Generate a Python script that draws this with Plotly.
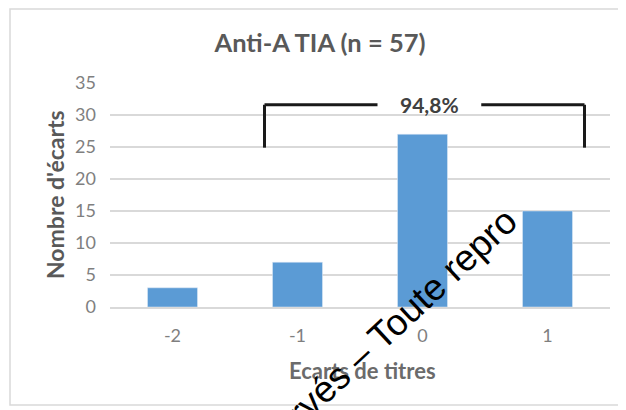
import plotly.graph_objects as go

categories = [-2, -1, 0, 1]
counts = [3, 7, 27, 15]
y_ticks = [0, 5, 10, 15, 20, 25, 30, 35]
title_text = "Anti-A TIA (n = 57)"
x_title = "Ecarts de titres"
y_title = "Nombre d'écarts"
bracket_label = "94,8%"
bracket_x = [-1.264, 1.296]
bracket_y = [24.9, 31.6]
gap_x = [-0.36, 0.47]
watermark = "rvés – Toute repro"

# page has an 8px body margin: figure px = page px - 8
OFF = 8
W, H = 618, 402
L, R, T, B = 110 - OFF, 16, 83 - OFF, 103
PW, PH = W - L - R, H - T - B


def px(xp):  # page x -> paper x
    return (xp - OFF - L) / PW


def py(yp):  # page y -> paper y
    return 1 - (yp - OFF - T) / PH


fig = go.Figure(go.Bar(x=categories, y=counts, marker_color="#5B9BD5",
                       width=0.4, hoverinfo="skip"))

shape_line = dict(color="#1a1a1a", width=3)
fig.add_shape(type="line", xref="x", yref="y", x0=bracket_x[0], x1=bracket_x[0],
              y0=bracket_y[0], y1=bracket_y[1], line=shape_line)
fig.add_shape(type="line", xref="x", yref="y", x0=bracket_x[1], x1=bracket_x[1],
              y0=bracket_y[0], y1=bracket_y[1], line=shape_line)
fig.add_shape(type="line", xref="x", yref="y", x0=bracket_x[0], x1=gap_x[0],
              y0=bracket_y[1], y1=bracket_y[1], line=shape_line)
fig.add_shape(type="line", xref="x", yref="y", x0=gap_x[1], x1=bracket_x[1],
              y0=bracket_y[1], y1=bracket_y[1], line=shape_line)
fig.add_annotation(x=(gap_x[0] + gap_x[1]) / 2, y=bracket_y[1], xref="x", yref="y",
                   text="<b>" + bracket_label + "</b>",
                   showarrow=False, font=dict(size=21, color="#404040", family="Lato"),
                   xanchor="center", yanchor="middle")

# chart border
fig.add_shape(type="rect", xref="paper", yref="paper",
              x0=px(10), x1=px(660), y0=py(405), y1=py(9),
              line=dict(color="#d9d9d9", width=1.5), fillcolor="rgba(0,0,0,0)", layer="below")

# axis titles
fig.add_annotation(x=px(55), y=py(195), xref="paper", yref="paper", text="<b>" + y_title + "</b>",
                   showarrow=False, textangle=-90, xanchor="center", yanchor="middle",
                   font=dict(size=23, color="#595959", family="Lato"))
fig.add_annotation(x=px(362), y=py(370), xref="paper", yref="paper", text="<b>" + x_title + "</b>",
                   showarrow=False, xanchor="center", yanchor="middle",
                   font=dict(size=22, color="#6b6b6b", family="Lato"))

# watermark
fig.add_annotation(x=px(402), y=py(316), xref="paper", yref="paper",
                   text=watermark, showarrow=False, textangle=-43,
                   xanchor="center", yanchor="middle",
                   font=dict(size=37, color="black", family="Liberation Sans"))

fig.update_layout(
    width=W, height=H,
    margin=dict(l=L, r=R, t=T, b=B, autoexpand=False),
    paper_bgcolor="white", plot_bgcolor="white",
    font=dict(family="Lato", color="#7f7f7f"),
    title=dict(text="<b>" + title_text + "</b>", x=(320 - OFF) / W, xanchor="center",
               y=1 - (43 - OFF) / H, yanchor="middle", xref="container", yref="container",
               font=dict(size=25.5, color="#595959", family="Lato")),
    showlegend=False,
    bargap=0.6,
)
fig.update_xaxes(range=[-2.5, 1.5], tickvals=categories, ticktext=[str(c) for c in categories],
                 showgrid=False, zeroline=False, showline=True, linecolor="#d9d9d9", linewidth=1.5,
                 tickfont=dict(size=18, color="#7f7f7f"), ticks="", ticklabelstandoff=12,
                 automargin=False)
fig.update_yaxes(range=[0, 35], tickvals=y_ticks, showgrid=True, gridcolor="#d9d9d9", gridwidth=1.5,
                 zeroline=False, showline=False, ticks="", automargin=False,
                 tickfont=dict(size=18, color="#7f7f7f"), ticklabelstandoff=13)

fig.write_html("out.html")
